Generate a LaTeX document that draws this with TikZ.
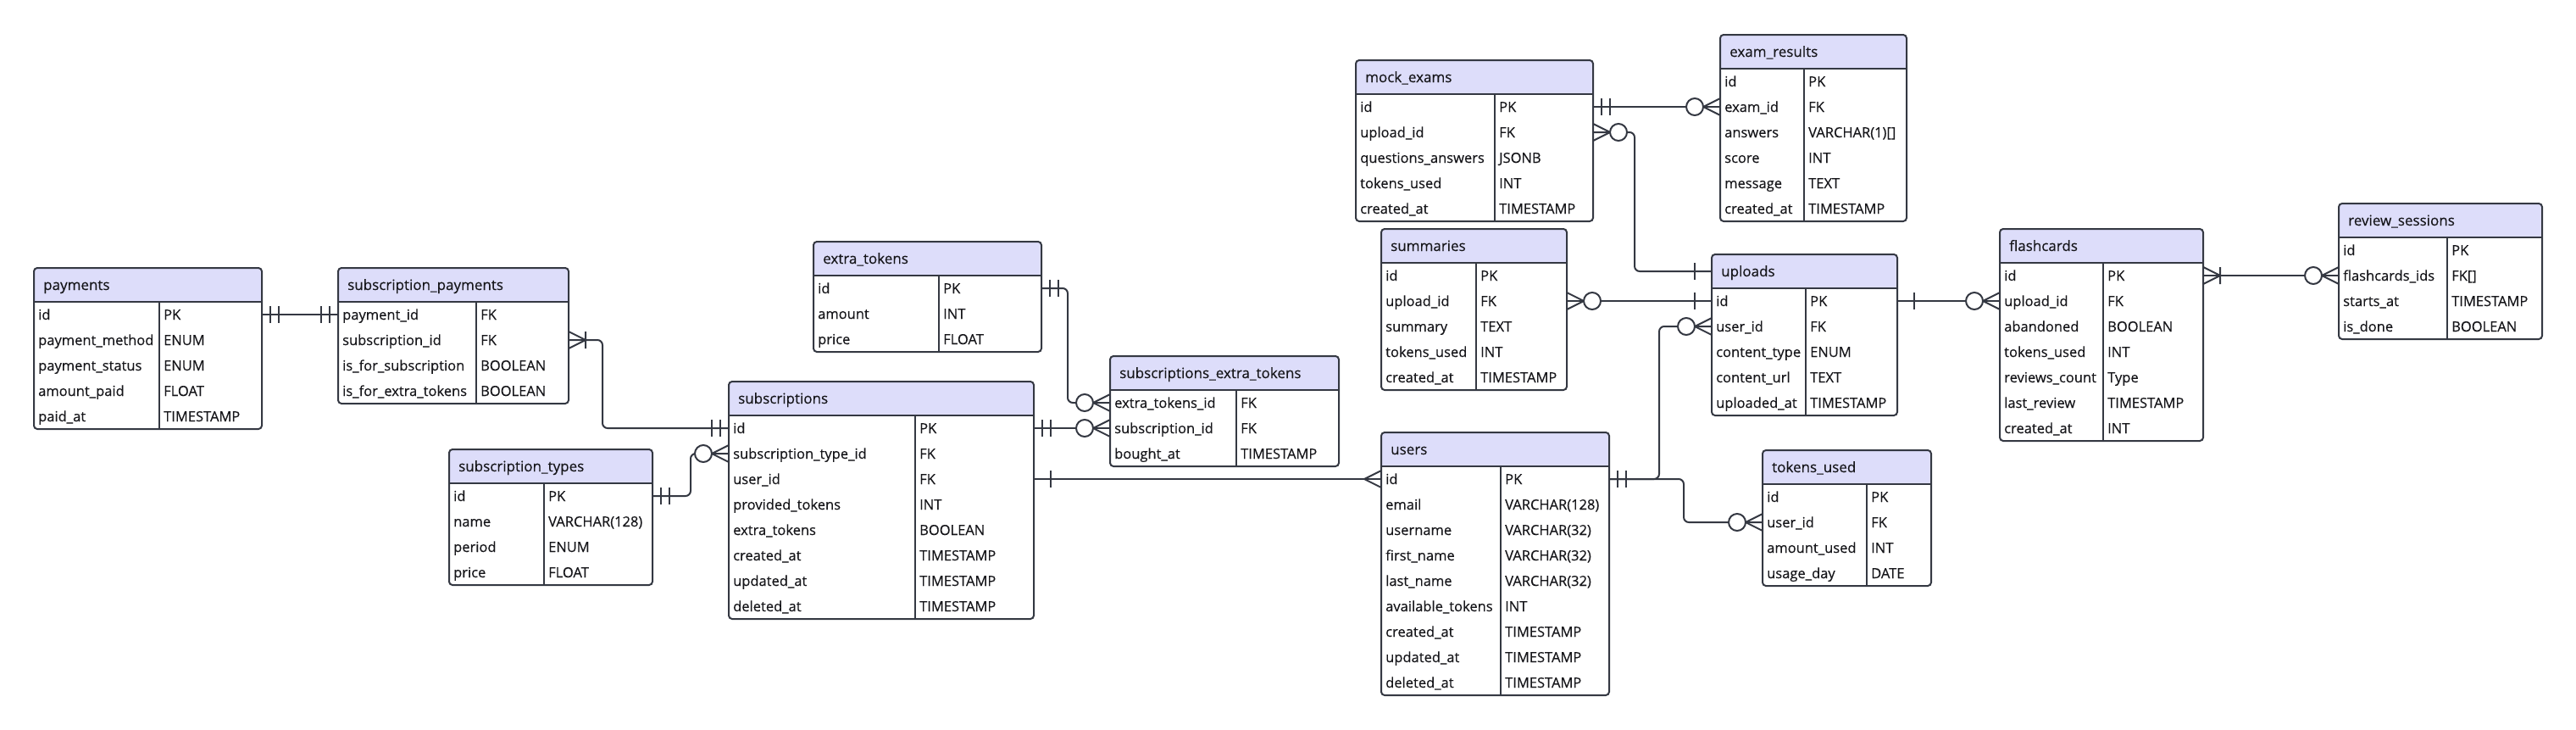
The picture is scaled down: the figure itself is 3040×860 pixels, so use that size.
\documentclass[tikz,border=0pt]{standalone}
\usepackage{fontspec}
\setmainfont[FakeBold=0.3]{Open Sans}

\definecolor{hdrfill}{RGB}{221,221,250}
\definecolor{linecol}{RGB}{52,56,66}
\definecolor{txtcol}{RGB}{22,22,26}

\tikzset{
    tbl/.style={draw=linecol, line width=2pt},
    hdr/.style={inner sep=0, outer sep=0, minimum height=40pt},
    row/.style={inner sep=0, outer sep=0, minimum height=30pt},
    field/.style={anchor=base west, inner sep=0, text=txtcol, font=\fontsize{16.5}{20}\selectfont},
    title/.style={anchor=base west, inner sep=0, text=txtcol, font=\fontsize{17}{20}\selectfont},
    erline/.style={draw=linecol, line width=2pt, rounded corners=6pt},
    crowline/.style={draw=linecol, line width=2pt},
    % relation ends, drawn pointing away from the table edge
    onebar/.pic={\draw[crowline] (20,-10) -- (20,10);},
    twobar/.pic={\draw[crowline] (10,-10) -- (10,10) (20,-10) -- (20,10);},
    crow/.pic={\draw[crowline] (0,-10) -- (20,0) -- (0,10);},
    onemany/.pic={\draw[crowline] (0,-10) -- (20,0) -- (0,10) (20,-10) -- (20,10);},
    zeromany/.pic={\draw[crowline] (0,-10) -- (20,0) -- (0,10);
                   \draw[crowline, fill=white] (30,0) circle[radius=10pt];}
}

% #1 name, #2 title, #3 left, #4 top, #5 column split, #6 right, #7 field/type rows
\newcommand{\ertable}[7]{%
    \node[hdr, minimum width={#6-#3}, anchor=north west] (#1-h) at (#3,#4) {};
    \foreach \fld/\typ [count=\i] in {#7} {
        \node[row, minimum width={#6-#3}, anchor=north west] (#1-\i) at (#3,{#4+40+30*(\i-1)}) {};
        \node[field] (#1-\i-f) at (#3+5,{#4+61+30*(\i-1)}) {\fld};
        \node[field] (#1-\i-t) at (#5+5,{#4+61+30*(\i-1)}) {\typ};
        \xdef\nrows{\i}
    }
    \begin{scope}
        \clip[rounded corners=4pt] (#3,#4) rectangle (#6,{#4+40+30*\nrows});
        \fill[hdrfill] (#3,#4) rectangle (#6,#4+40);
    \end{scope}
    \node[title] (#1-n) at (#3+11,#4+26) {#2};
    \draw[tbl, rounded corners=4pt] (#3,#4) rectangle (#6,{#4+40+30*\nrows});
    \draw[tbl] (#3,#4+40) -- (#6,#4+40) (#5,#4+40) -- (#5,{#4+40+30*\nrows});
}

\begin{document}
\begin{tikzpicture}[x=1pt, y=-1pt]
    \fill[white] (0,0) rectangle (3040,860);
    \useasboundingbox (0,0) rectangle (3040,860);

    % billing side
    \ertable{payments}{payments}{40}{316}{188}{309}{id/PK, payment\_method/ENUM, payment\_status/ENUM, amount\_paid/FLOAT, paid\_at/TIMESTAMP}
    \ertable{subpay}{subscription\_payments}{399}{316}{562}{671}{payment\_id/FK, subscription\_id/FK, is\_for\_subscription/BOOLEAN, is\_for\_extra\_tokens/BOOLEAN}
    \ertable{subtypes}{subscription\_types}{530}{530}{642}{770}{id/PK, name/VARCHAR(128), period/ENUM, price/FLOAT}
    \ertable{subs}{subscriptions}{860}{450}{1080}{1220}{id/PK, subscription\_type\_id/FK, user\_id/FK, provided\_tokens/INT, extra\_tokens/BOOLEAN, created\_at/TIMESTAMP, updated\_at/TIMESTAMP, deleted\_at/TIMESTAMP}
    \ertable{extok}{extra\_tokens}{960}{285}{1108}{1229}{id/PK, amount/INT, price/FLOAT}
    \ertable{subext}{subscriptions\_extra\_tokens}{1310}{420}{1459}{1580}{extra\_tokens\_id/FK, subscription\_id/FK, bought\_at/TIMESTAMP}

    % users and content
    \ertable{users}{users}{1630}{510}{1771}{1899}{id/PK, email/VARCHAR(128), username/VARCHAR(32), first\_name/VARCHAR(32), last\_name/VARCHAR(32), available\_tokens/INT, created\_at/TIMESTAMP, updated\_at/TIMESTAMP, deleted\_at/TIMESTAMP}
    \ertable{mockex}{mock\_exams}{1600}{71}{1764}{1880}{id/PK, upload\_id/FK, questions\_answers/JSONB, tokens\_used/INT, created\_at/TIMESTAMP}
    \ertable{exres}{exam\_results}{2030}{41}{2129}{2250}{id/PK, exam\_id/FK, answers/{VARCHAR(1)[]}, score/INT, message/TEXT, created\_at/TIMESTAMP}
    \ertable{summ}{summaries}{1630}{270}{1742}{1849}{id/PK, upload\_id/FK, summary/TEXT, tokens\_used/INT, created\_at/TIMESTAMP}
    \ertable{uploads}{uploads}{2020}{300}{2131}{2239}{id/PK, user\_id/FK, content\_type/ENUM, content\_url/TEXT, uploaded\_at/TIMESTAMP}
    \ertable{tokused}{tokens\_used}{2080}{531}{2203}{2279}{id/PK, user\_id/FK, amount\_used/INT, usage\_day/DATE}
    \ertable{flash}{flashcards}{2360}{270}{2482}{2600}{id/PK, upload\_id/FK, abandoned/BOOLEAN, tokens\_used/INT, reviews\_count/Type, last\_review/TIMESTAMP, created\_at/INT}
    \ertable{review}{review\_sessions}{2760}{240}{2888}{3000}{id/PK, flashcards\_ids/{FK[]}, starts\_at/TIMESTAMP, is\_done/BOOLEAN}

    % relations
    \draw[erline] (payments-1.east) -- (subpay-1.west);
    \draw[erline] (subpay-2.east) -- ++(40,0) |- (subs-1.west);
    \draw[erline] (subtypes-1.east) -- ++(45,0) |- (subs-2.west);
    \draw[erline] (extok-1.east) -- ++(31,0) |- (subext-1.west);
    \draw[erline] (subs-1.east) -- (subext-2.west);
    \draw[erline] (subs-3.east) -- (users-1.west);
    \draw[erline] (users-1.east) -- ++(59,0) |- (uploads-2.west);
    \draw[erline] (users-1.east) -- ++(88,0) |- (tokused-2.west);
    \draw[erline] (summ-2.east) -- (uploads-1.west);
    \draw[erline] (mockex-2.east) -- ++(49,0) |- (uploads-h.west);
    \draw[erline] (mockex-1.east) -- (exres-2.west);
    \draw[erline] (uploads-1.east) -- (flash-2.west);
    \draw[erline] (flash-1.east) -- (review-2.west);

    % relation ends
    \pic at (payments-1.east) {twobar};
    \pic[xscale=-1] at (subpay-1.west) {twobar};
    \pic at (subpay-2.east) {onemany};
    \pic[xscale=-1] at (subs-1.west) {twobar};
    \pic at (subtypes-1.east) {twobar};
    \pic[xscale=-1] at (subs-2.west) {zeromany};
    \pic at (extok-1.east) {twobar};
    \pic[xscale=-1] at (subext-1.west) {zeromany};
    \pic at (subs-1.east) {twobar};
    \pic[xscale=-1] at (subext-2.west) {zeromany};
    \pic at (subs-3.east) {onebar};
    \pic[xscale=-1] at (users-1.west) {crow};
    \pic at (users-1.east) {twobar};
    \pic[xscale=-1] at (uploads-2.west) {zeromany};
    \pic[xscale=-1] at (tokused-2.west) {zeromany};
    \pic at (summ-2.east) {zeromany};
    \pic[xscale=-1] at (uploads-1.west) {onebar};
    \pic at (mockex-2.east) {zeromany};
    \pic[xscale=-1] at (uploads-h.west) {onebar};
    \pic at (mockex-1.east) {twobar};
    \pic[xscale=-1] at (exres-2.west) {zeromany};
    \pic at (uploads-1.east) {onebar};
    \pic[xscale=-1] at (flash-2.west) {zeromany};
    \pic at (flash-1.east) {onemany};
    \pic[xscale=-1] at (review-2.west) {zeromany};
\end{tikzpicture}
\end{document}
